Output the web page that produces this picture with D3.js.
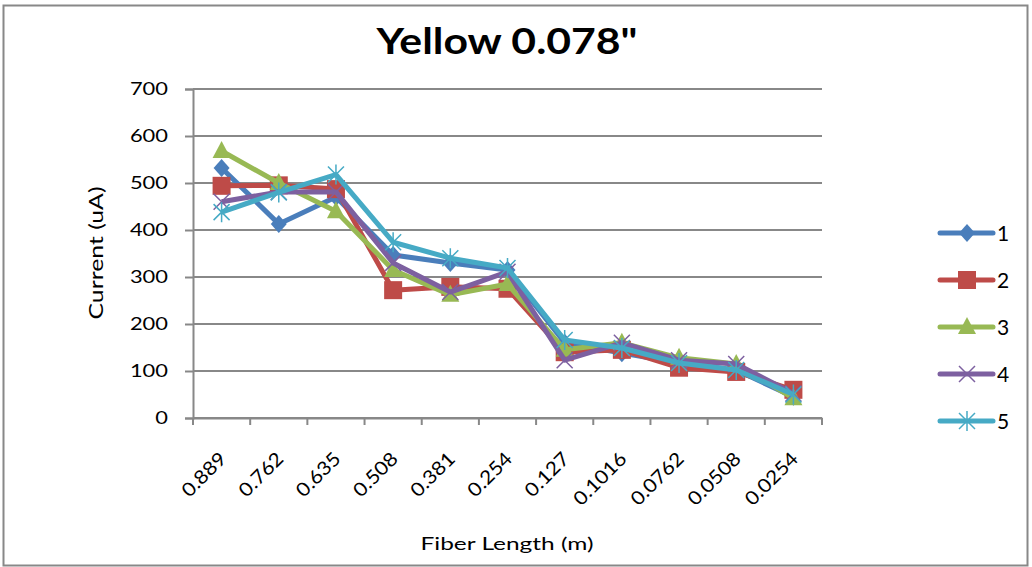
<!DOCTYPE html>
<html><head><meta charset="utf-8">
<script src="https://cdn.jsdelivr.net/npm/d3@7"></script>
<style>body{margin:0;background:#fff}svg{display:block}text{font-family:Lato,"Open Sans",sans-serif;fill:#000}</style>
</head><body><svg id="c" width="1032" height="567"></svg>
<script>
const categories = ["0.889","0.762","0.635","0.508","0.381","0.254","0.127","0.1016","0.0762","0.0508","0.0254"];
const seriesNames = ["1","2","3","4","5"];
const s1 = [532, 413, 470, 347, 330, 315, 160, 138, 117, 102, 45];
const s2 = [494, 495, 487, 272, 279, 275, 140, 145, 107, 98, 60];
const s3 = [568, 500, 440, 315, 262, 285, 145, 160, 128, 115, 42];
const s4 = [460, 481, 481, 330, 268, 311, 123, 160, 123, 115, 52];
const s5 = [438, 480, 518, 374, 340, 319, 166, 149, 117, 102, 50];
const yTicks = [0,100,200,300,400,500,600,700];
const colors = ["#4A7EBB","#BE4B48","#98B954","#7D60A0","#46AAC5"];
const markers = ["diamond","square","triangle","x","star"];
const allSeries = [s1,s2,s3,s4,s5];

const svg = d3.select("#c");
const L=193,R=822,T=89,B=418;
const x = d3.scaleBand().domain(categories).range([L,R]);
const y = d3.scaleLinear().domain([0,700]).range([B,T]);

svg.append("rect").attr("x",3.5).attr("y",5.5).attr("width",1024).attr("height",560)
  .attr("fill","none").attr("stroke","#888").attr("stroke-width",2);

svg.append("text").attr("x",507).attr("y",54).attr("text-anchor","middle")
  .attr("textLength",261).attr("lengthAdjust","spacingAndGlyphs")
  .style("font-size","36px").style("font-weight","bold").text('Yellow 0.078"');

// grid
svg.append("g").selectAll("line").data(yTicks).join("line")
  .attr("x1",L).attr("x2",R).attr("y1",d=>y(d)).attr("y2",d=>y(d))
  .attr("stroke","#888").attr("stroke-width",2);

// y axis
const ya = svg.append("g").attr("transform",`translate(${L},0)`)
  .call(d3.axisLeft(y).tickValues(yTicks).tickSize(8).tickPadding(17));
ya.select(".domain").attr("stroke","#888").attr("stroke-width",2);
ya.selectAll(".tick line").attr("stroke","#888").attr("stroke-width",2);
ya.selectAll("text").style("font-size","18px").attr("fill","#000")
  .attr("textLength",function(){return this.textContent.length*12.7;})
  .attr("lengthAdjust","spacingAndGlyphs");

// x axis
const xa = svg.append("g").attr("transform",`translate(0,${B})`)
  .call(d3.axisBottom(x).tickSize(0).tickFormat(""));
xa.select(".domain").attr("stroke","#888").attr("stroke-width",2);
const bounds = categories.map((c,i)=>x(c)).concat([R]);
svg.append("g").selectAll("line").data(bounds).join("line")
  .attr("x1",d=>d).attr("x2",d=>d).attr("y1",B).attr("y2",B+7)
  .attr("stroke","#888").attr("stroke-width",2);
svg.append("g").selectAll("text").data(categories).join("text")
  .attr("transform",d=>`translate(${x(d)+x.bandwidth()/2+6},${B+42}) rotate(-45)`)
  .attr("text-anchor","end").style("font-size","19px")
  .attr("textLength",d=>(d.length-1)*12+6).attr("lengthAdjust","spacingAndGlyphs")
  .text(d=>d);

svg.append("text").attr("transform","translate(103,253) rotate(-90)").attr("text-anchor","middle")
  .attr("textLength",133).attr("lengthAdjust","spacingAndGlyphs")
  .style("font-size","19px").text("Current (uA)");
svg.append("text").attr("x",507).attr("y",550).attr("text-anchor","middle")
  .attr("textLength",173).attr("lengthAdjust","spacingAndGlyphs")
  .style("font-size","18px").text("Fiber Length (m)");

function drawMarker(g,type,color,cx,cy){
  if(type==="diamond"){
    g.append("path").attr("d",`M${cx},${cy-9}L${cx+8},${cy}L${cx},${cy+9}L${cx-8},${cy}Z`).attr("fill",color);
  } else if(type==="square"){
    g.append("rect").attr("x",cx-9).attr("y",cy-9).attr("width",18).attr("height",18).attr("fill",color);
  } else if(type==="triangle"){
    g.append("path").attr("d",`M${cx},${cy-10}L${cx+9},${cy+7}L${cx-9},${cy+7}Z`).attr("fill",color);
  } else if(type==="x"){
    g.append("path").attr("d",`M${cx-8},${cy-8}L${cx+8},${cy+8}M${cx-8},${cy+8}L${cx+8},${cy-8}`)
      .attr("stroke",color).attr("stroke-width",1.5);
  } else {
    g.append("path").attr("d",`M${cx-8},${cy-8}L${cx+8},${cy+8}M${cx-8},${cy+8}L${cx+8},${cy-8}M${cx},${cy-10}L${cx},${cy+10}`)
      .attr("stroke",color).attr("stroke-width",1.5);
  }
}

const line = d3.line().x((d,i)=>x(categories[i])+x.bandwidth()/2).y(d=>y(d));
allSeries.forEach((s,k)=>{
  const g = svg.append("g");
  g.append("path").attr("d",line(s)).attr("fill","none").attr("stroke",colors[k])
    .attr("stroke-width",5).attr("stroke-linejoin","round");
  s.forEach((v,i)=>drawMarker(g,markers[k],colors[k],x(categories[i])+x.bandwidth()/2,y(v)));
});

// legend
seriesNames.forEach((n,k)=>{
  const cy = 233 + k*47;
  const g = svg.append("g");
  g.append("line").attr("x1",940).attr("x2",993).attr("y1",cy).attr("y2",cy)
    .attr("stroke",colors[k]).attr("stroke-width",5).attr("stroke-linecap","round");
  drawMarker(g,markers[k],colors[k],967,cy);
  g.append("text").attr("x",997).attr("y",cy).attr("dy","0.36em").style("font-size","21px").text(n);
});
</script></body></html>
